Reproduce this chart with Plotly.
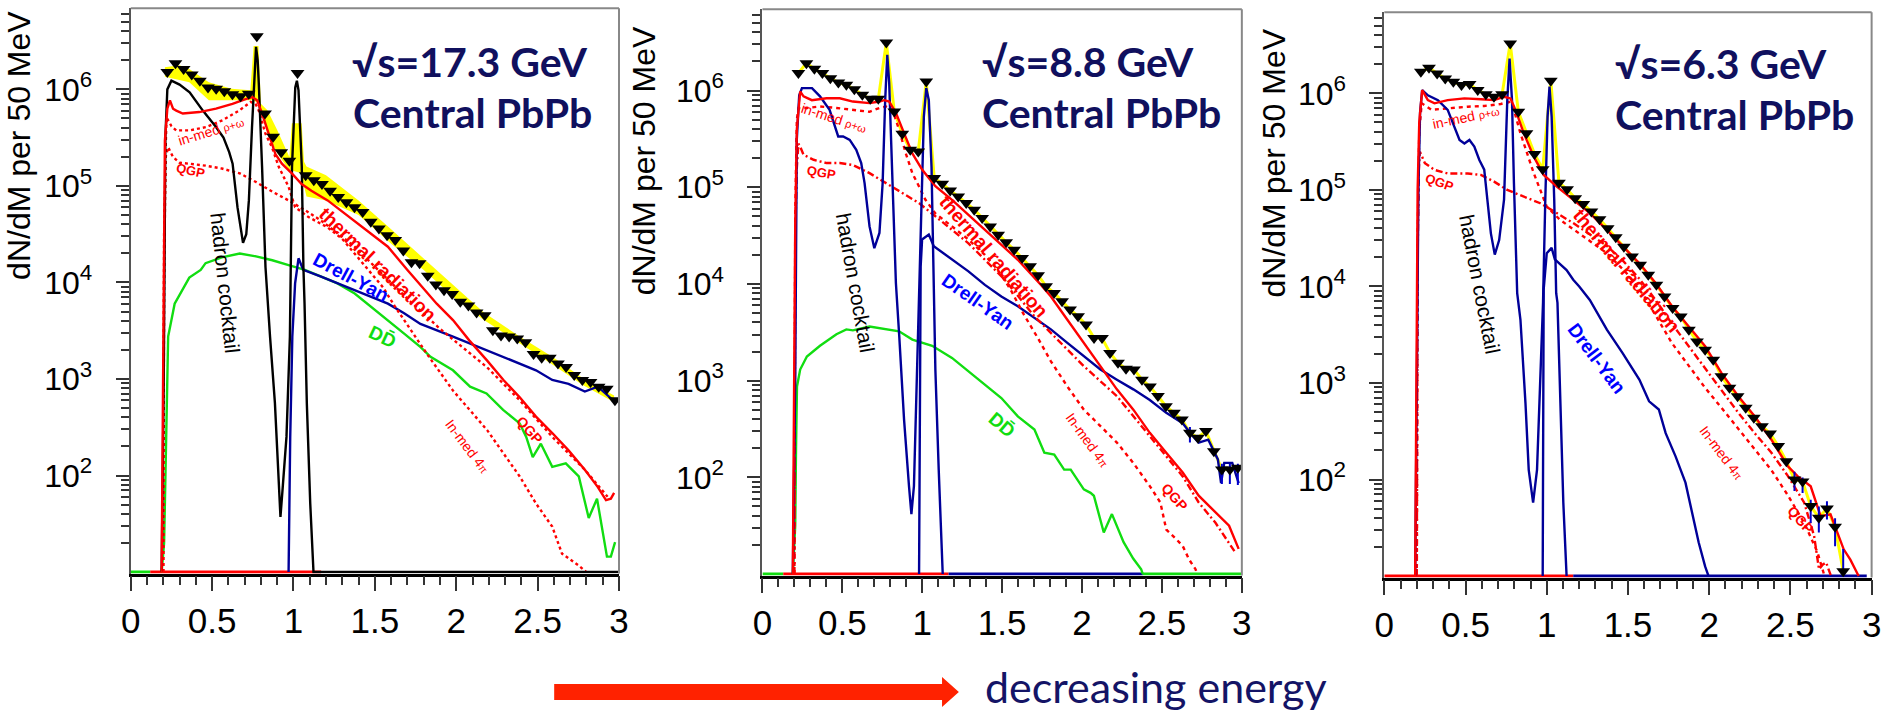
import plotly.graph_objects as go

W, H = 1893, 711

# ---------------- data (x: mass in GeV, *_lg: log10 of dN/dM per 50 MeV) ----------------
mass_bins = [0.225, 0.275, 0.325, 0.375, 0.425, 0.475, 0.525, 0.575, 0.625, 0.675,
             0.725, 0.775, 0.825, 0.875, 0.925, 0.975, 1.025, 1.075, 1.125, 1.175,
             1.225, 1.275, 1.325, 1.375, 1.425, 1.475, 1.525, 1.575, 1.625, 1.675,
             1.725, 1.775, 1.825, 1.875, 1.925, 1.975, 2.025, 2.075, 2.125, 2.175,
             2.225, 2.275, 2.325, 2.375, 2.425, 2.475, 2.525, 2.575, 2.625, 2.675,
             2.725, 2.775, 2.825, 2.875, 2.925, 2.975]

data1_lg = [6.18, 6.27, 6.21, 6.155, 6.09, 6.02, 6.007, 5.98, 5.95, 5.93, 5.955, 6.55,
            5.75, 5.51, 5.35, 5.26, 6.17,
            5.11, 5.06, 5.02, 4.95, 4.885, 4.83, 4.78, 4.73, 4.63, 4.56,
            4.49, 4.44, 4.33, 4.21, 4.20, 4.07, 3.98, 3.92, 3.88, 3.80,
            3.76, 3.69, 3.66, 3.505, 3.45, 3.44, 3.42, 3.38, 3.26, 3.22,
            3.22, 3.16, 3.125, 3.04, 2.99, 2.97, 2.92, 2.90, 2.78]
data2_lg = [6.18, 6.283, 6.224, 6.18, 6.128, 6.083, 6.059, 6.014, 5.956, 5.914, 5.914, 6.496,
            5.783, 5.553, 5.387, 5.37, 6.093,
            5.095, 5.036, 4.967, 4.905, 4.837, 4.768, 4.682, 4.595, 4.509, 4.43,
            4.354, 4.268, 4.182, 4.09, 3.975, 3.907, 3.82, 3.735, 3.665, 3.58,
            3.44, 3.44, 3.287, 3.184, 3.122, 3.115, 3.01, 2.94, 2.84, 2.735,
            2.667, 2.598, 2.46, 2.41, 2.48, 2.27, 2.08, 2.08, 2.10]
data3_lg = [6.223, 6.265, 6.207, 6.155, 6.12, 6.086, 6.096, 6.034, 5.99, 5.965, 5.99, 6.517,
            5.81, 5.586, 5.372, 5.214, 6.13,
            5.075, 5.007, 4.914, 4.855, 4.776, 4.697, 4.604, 4.51, 4.41, 4.31,
            4.224, 4.12, 4.018, 3.897, 3.777, 3.69, 3.552, 3.431, 3.345, 3.242,
            3.07, 2.95, 2.863, 2.743, 2.64, 2.552, 2.477, 2.346, 2.19, 2.0,
            1.98, 1.725, 1.605, 1.70, 1.512, 1.05]

# systematic band (panel 1)
band1_x = [0.21, 0.30, 0.36, 0.48, 0.62, 0.735, 0.755, 0.785, 0.80, 0.84, 0.90, 0.975, 0.99,
           1.05, 1.065, 1.08, 1.2, 1.4, 1.6, 1.8, 2.0, 2.17, 2.38, 2.6, 2.78, 2.97]
band1_hi = [6.23, 6.25, 6.21, 6.075, 6.007, 5.99, 6.45, 6.45, 5.85, 5.784, 5.58, 5.30, 5.65,
            5.65, 5.25, 5.2, 5.11, 4.85, 4.55, 4.25, 3.94, 3.69, 3.45, 3.22, 3.005, 2.83]
band1_lo = [6.13, 6.10, 6.075, 5.887, 5.887, 5.887, 5.887, 5.85, 5.80, 5.54, 5.34, 5.16, 5.16,
            5.13, 5.0, 4.89, 4.85, 4.70, 4.40, 4.13, 3.82, 3.61, 3.38, 3.14, 2.935, 2.76]

# error bars (log10 low / high)
err2_x = [2.675, 2.875, 2.925, 2.975]
err2_val = [2.46, 2.08, 2.08, 2.10]
err2_hi = [2.52, 2.14, 2.14, 2.14]
err2_lo = [2.36, 1.93, 1.93, 1.92]
err3_x = [2.525, 2.575, 2.625, 2.675, 2.725, 2.775, 2.825]
err3_val = [2.0, 1.98, 1.725, 1.605, 1.70, 1.512, 1.05]
err3_hi = [2.08, 2.02, 1.79, 1.72, 1.775, 1.60, 1.28]
err3_lo = [1.88, 1.86, 1.55, 1.45, 1.585, 1.31, 1.02]

# ---- panel 1: sqrt(s)=17.3 GeV ----
p1_cock_x = [0.19, 0.203, 0.213, 0.225, 0.25, 0.30, 0.362, 0.443, 0.524, 0.57, 0.605, 0.626, 0.656,
             0.69, 0.71, 0.726, 0.745, 0.757, 0.77, 0.78, 0.787, 0.807, 0.828, 0.856, 0.886, 0.906,
             0.92, 0.935, 0.957, 0.978, 0.991, 1.011, 1.021, 1.031, 1.051, 1.061, 1.068, 1.082,
             1.103, 1.123, 3.0]
p1_cock_lg = [1.0, 3.0, 5.5, 6.0, 6.09, 6.05, 5.97, 5.78, 5.61, 5.5, 5.35, 5.23, 4.78,
              4.41, 4.5, 4.85, 5.6, 6.06, 6.44, 6.3, 6.06, 5.2, 4.16, 3.44, 2.75, 2.06,
              1.57, 1.9, 2.40, 3.44, 5.2, 6.02, 6.09, 5.99, 5.2, 4.16, 3.78, 2.75,
              1.71, 1.0, 1.0]
p1_therm_x = [0.19, 0.2, 0.205, 0.21, 0.225, 0.241, 0.26, 0.28, 0.32, 0.422, 0.524, 0.625, 0.706,
              0.747, 0.777, 0.807, 0.848, 0.889, 0.929, 0.99, 1.05, 1.11, 1.21, 1.37, 1.58, 1.70,
              1.80, 1.88, 1.98, 2.08, 2.19, 2.29, 2.39, 2.49, 2.59, 2.69, 2.79, 2.87, 2.92, 2.95, 2.97]
p1_therm_lg = [1.0, 3.0, 4.5, 5.47, 5.8, 5.886, 5.8, 5.78, 5.75, 5.765, 5.8, 5.85, 5.90,
               5.92, 5.886, 5.75, 5.54, 5.33, 5.23, 5.13, 5.02, 4.95, 4.85, 4.64, 4.37, 4.13,
               3.93, 3.78, 3.61, 3.40, 3.19, 2.99, 2.81, 2.61, 2.44, 2.26, 2.06, 1.88, 1.745, 1.76, 1.82]
p1_inmed_x = [0.2, 0.205, 0.215, 0.22, 0.25, 0.28, 0.362, 0.463, 0.564, 0.666, 0.737, 0.767, 0.787,
              0.828, 0.868, 0.909, 0.97, 1.01, 1.09, 1.21, 1.30, 1.45, 1.55, 1.62, 1.72, 1.82,
              1.98, 2.19, 2.39, 2.49, 2.59, 2.65, 2.75, 2.8]
p1_inmed_lg = [1.0, 4.0, 5.4, 5.71, 5.62, 5.575, 5.575, 5.61, 5.68, 5.78, 5.87, 5.85, 5.78,
               5.54, 5.40, 5.2, 4.99, 4.78, 4.68, 4.57, 4.45, 4.15, 3.95, 3.76, 3.505, 3.26,
               2.88, 2.47, 1.99, 1.71, 1.47, 1.19, 1.07, 1.0]
p1_qgp_x = [0.2, 0.205, 0.215, 0.23, 0.26, 0.30, 0.36, 0.46, 0.56, 0.67, 0.77, 0.87, 0.97, 1.07,
            1.17, 1.37, 1.55, 1.72, 1.90, 2.19, 2.39, 2.59, 2.79, 2.93]
p1_qgp_lg = [1.0, 4.5, 5.3, 5.40, 5.30, 5.24, 5.23, 5.21, 5.18, 5.13, 5.04, 4.94, 4.85, 4.75,
             4.64, 4.38, 4.08, 3.80, 3.52, 3.12, 2.78, 2.40, 2.06, 1.78]
p1_dd_x = [0.19, 0.205, 0.21, 0.22, 0.23, 0.27, 0.33, 0.36, 0.43, 0.46, 0.56, 0.67, 0.77, 0.87,
           0.97, 1.07, 1.17, 1.27, 1.376, 1.477, 1.578, 1.68, 1.781, 1.842, 1.98, 2.085, 2.186,
           2.288, 2.39, 2.43, 2.47, 2.52, 2.59, 2.673, 2.753, 2.814, 2.865, 2.926, 2.95, 2.976]
p1_dd_lg = [1.0, 1.3, 1.71, 2.75, 3.44, 3.78, 3.95, 4.05, 4.13, 4.20, 4.26, 4.30, 4.27, 4.23,
            4.18, 4.13, 4.06, 3.99, 3.885, 3.75, 3.61, 3.47, 3.33, 3.23, 3.09, 2.92, 2.85,
            2.68, 2.54, 2.40, 2.19, 2.33, 2.09, 2.125, 1.99, 1.56, 1.76, 1.16, 1.16, 1.31]
p1_dy_x = [0.97, 0.98, 0.993, 1.01, 1.031, 1.06, 1.17, 1.27, 1.37, 1.477, 1.58, 1.68, 1.78, 1.98,
           2.08, 2.19, 2.39, 2.49, 2.59, 2.69, 2.79, 2.87, 2.95, 2.976]
p1_dy_lg = [1.0, 2.40, 3.44, 3.99, 4.25, 4.13, 4.06, 3.99, 3.92, 3.85, 3.78, 3.68, 3.57, 3.44,
            3.37, 3.30, 3.16, 3.09, 2.99, 2.95, 2.87, 2.92, 2.80, 2.78]

# ---- panel 2: sqrt(s)=8.8 GeV ----
p2_cock_x = [0.19, 0.205, 0.215, 0.23, 0.247, 0.31, 0.36, 0.42, 0.474, 0.505, 0.546, 0.587, 0.618,
             0.639, 0.67, 0.70, 0.732, 0.752, 0.768, 0.781, 0.793, 0.814, 0.835, 0.856, 0.886,
             0.917, 0.932, 0.948, 0.969, 0.979, 0.99, 1.01, 1.025, 1.041, 1.058, 1.072, 1.082,
             1.103, 1.128]
p2_cock_lg = [1.0, 3.0, 5.5, 5.95, 6.025, 6.025, 5.94, 5.80, 5.525, 5.525, 5.49, 5.387, 5.25,
              5.043, 4.595, 4.37, 4.527, 5.04, 5.90, 6.37, 6.08, 5.04, 4.01, 3.46, 2.60,
              1.91, 1.62, 1.91, 3.115, 3.80, 4.527, 5.73, 6.025, 5.90, 5.21, 4.18, 3.115,
              2.08, 1.0]
p2_therm_x = [0.19, 0.2, 0.205, 0.215, 0.236, 0.257, 0.309, 0.401, 0.484, 0.566, 0.67, 0.732, 0.762,
              0.793, 0.835, 0.886, 0.938, 1.0, 1.082, 1.186, 1.392, 1.598, 1.743, 1.805, 1.908,
              2.011, 2.115, 2.218, 2.321, 2.424, 2.527, 2.63, 2.73, 2.835, 2.92, 2.98]
p2_therm_lg = [1.0, 3.0, 4.6, 5.6, 5.99, 5.94, 5.90, 5.92, 5.92, 5.886, 5.87, 5.886, 5.90,
               5.886, 5.77, 5.56, 5.35, 5.18, 5.01, 4.87, 4.56, 4.25, 3.99, 3.87, 3.63,
               3.39, 3.15, 2.91, 2.70, 2.46, 2.254, 2.05, 1.81, 1.64, 1.50, 1.26]
p2_inmed_x = [0.2, 0.205, 0.215, 0.226, 0.278, 0.36, 0.463, 0.566, 0.67, 0.732, 0.773, 0.814, 0.855,
              0.897, 0.938, 0.979, 1.02, 1.082, 1.186, 1.289, 1.392, 1.47, 1.55, 1.63, 1.72, 1.805,
              1.908, 2.011, 2.115, 2.218, 2.32, 2.424, 2.49, 2.527, 2.59, 2.63, 2.67, 2.71, 2.72]
p2_inmed_lg = [1.0, 4.7, 5.7, 5.82, 5.82, 5.835, 5.82, 5.80, 5.78, 5.82, 5.835, 5.80, 5.594,
               5.35, 5.146, 5.01, 4.87, 4.73, 4.595, 4.46, 4.30, 4.15, 3.95, 3.70, 3.45, 3.20,
               2.94, 2.70, 2.53, 2.36, 2.15, 1.91, 1.74, 1.46, 1.36, 1.29, 1.15, 1.05, 1.0]
p2_qgp_x = [0.2, 0.205, 0.215, 0.225, 0.236, 0.257, 0.32, 0.401, 0.484, 0.566, 0.67, 0.773, 0.876,
            0.979, 1.082, 1.186, 1.289, 1.392, 1.516, 1.702, 1.805, 2.011, 2.218, 2.424, 2.63,
            2.73, 2.835, 2.96]
p2_qgp_lg = [1.0, 4.5, 5.2, 5.45, 5.42, 5.336, 5.284, 5.25, 5.25, 5.23, 5.146, 5.04, 4.94,
             4.837, 4.70, 4.56, 4.42, 4.25, 4.044, 3.665, 3.49, 3.15, 2.84, 2.43, 2.01,
             1.74, 1.53, 1.22]
p2_dd_x = [0.19, 0.205, 0.21, 0.216, 0.236, 0.278, 0.36, 0.463, 0.525, 0.566, 0.67, 0.773, 0.855,
           0.938, 1.062, 1.186, 1.289, 1.392, 1.495, 1.598, 1.702, 1.764, 1.826, 1.888, 1.929,
           2.011, 2.053, 2.074, 2.136, 2.187, 2.26, 2.32, 2.37, 2.38]
p2_dd_lg = [1.0, 1.5, 2.3, 2.94, 3.115, 3.25, 3.36, 3.48, 3.53, 3.52, 3.56, 3.535, 3.51,
            3.425, 3.36, 3.235, 3.097, 2.96, 2.82, 2.63, 2.495, 2.254, 2.236, 2.08, 2.08,
            1.875, 1.84, 1.81, 1.43, 1.62, 1.33, 1.16, 1.05, 1.0]
p2_dy_x = [0.98, 0.985, 0.99, 0.999, 1.041, 1.072, 1.186, 1.289, 1.392, 1.495, 1.598, 1.702, 1.805,
           1.908, 2.011, 2.115, 2.218, 2.321, 2.424, 2.527, 2.63, 2.69, 2.73, 2.79, 2.85, 2.87,
           2.89, 2.94, 2.98]
p2_dy_lg = [1.0, 3.0, 4.18, 4.46, 4.51, 4.39, 4.25, 4.13, 3.99, 3.87, 3.77, 3.65, 3.53,
            3.39, 3.25, 3.115, 3.01, 2.91, 2.80, 2.667, 2.56, 2.43, 2.36, 2.39, 2.185, 1.94,
            2.15, 2.15, 1.94]

# ---- panel 3: sqrt(s)=6.3 GeV ----
p3_cock_x = [0.19, 0.2, 0.21, 0.22, 0.233, 0.268, 0.33, 0.39, 0.432, 0.463, 0.493, 0.524, 0.554,
             0.585, 0.615, 0.636, 0.656, 0.68, 0.707, 0.737, 0.757, 0.771, 0.786, 0.798, 0.818,
             0.838, 0.869, 0.889, 0.916, 0.94, 0.961, 0.977, 0.991, 1.005, 1.017, 1.03, 1.046,
             1.058, 1.066, 1.082, 1.102, 1.122]
p3_cock_lg = [1.0, 3.0, 5.0, 5.8, 6.034, 5.98, 5.93, 5.83, 5.655, 5.517, 5.48, 5.517, 5.45,
              5.31, 5.21, 4.90, 4.55, 4.33, 4.48, 4.90, 5.93, 6.36, 5.93, 5.07, 3.93,
              3.655, 2.79, 2.10, 1.76, 2.10, 3.14, 3.83, 4.90, 5.76, 6.07, 5.76, 4.90,
              3.93, 3.83, 2.79, 1.76, 1.0]
p3_therm_x = [0.19, 0.2, 0.205, 0.215, 0.233, 0.268, 0.309, 0.39, 0.493, 0.595, 0.676, 0.737, 0.777,
              0.808, 0.859, 0.92, 0.981, 1.062, 1.163, 1.265, 1.37, 1.467, 1.57, 1.67, 1.772,
              1.874, 1.975, 2.077, 2.179, 2.28, 2.382, 2.483, 2.544, 2.625, 2.686, 2.747, 2.788,
              2.828, 2.869, 2.91, 2.92]
p3_therm_lg = [1.0, 3.5, 5.0, 5.7, 6.034, 5.93, 5.897, 5.93, 5.948, 5.94, 5.93, 5.965, 5.948,
               5.827, 5.586, 5.345, 5.155, 5.034, 4.897, 4.76, 4.586, 4.414, 4.24, 4.035, 3.793,
               3.586, 3.38, 3.10, 2.863, 2.656, 2.415, 2.14, 2.035, 1.93, 1.62, 1.64, 1.45,
               1.277, 1.17, 1.04, 1.0]
p3_inmed_x = [0.2, 0.205, 0.215, 0.23, 0.29, 0.39, 0.514, 0.615, 0.717, 0.767, 0.798, 0.838, 0.879,
              0.92, 0.96, 1.0, 1.082, 1.2, 1.37, 1.49, 1.6, 1.772, 1.874, 1.975, 2.077, 2.18,
              2.28, 2.382, 2.483, 2.585, 2.666, 2.71]
p3_inmed_lg = [1.0, 4.5, 5.6, 5.897, 5.83, 5.845, 5.862, 5.87, 5.89, 5.913, 5.827, 5.586, 5.38,
               5.173, 5.0, 4.827, 4.69, 4.55, 4.345, 4.14, 3.90, 3.41, 3.18, 2.95, 2.74, 2.52,
               2.31, 2.10, 1.84, 1.55, 1.25, 1.0]
p3_qgp_x = [0.2, 0.205, 0.212, 0.219, 0.25, 0.31, 0.39, 0.514, 0.595, 0.676, 0.757, 0.859, 0.96,
            1.062, 1.163, 1.265, 1.37, 1.467, 1.57, 1.67, 1.772, 1.874, 1.975, 2.077, 2.18,
            2.28, 2.382, 2.483, 2.585, 2.646, 2.676, 2.70, 2.72, 2.75]
p3_qgp_lg = [1.0, 4.3, 5.2, 5.396, 5.276, 5.207, 5.17, 5.17, 5.155, 5.086, 5.0, 4.93, 4.862,
             4.76, 4.656, 4.54, 4.42, 4.27, 4.08, 3.86, 3.61, 3.38, 3.15, 2.92, 2.69,
             2.48, 2.28, 2.04, 1.76, 1.415, 1.07, 1.12, 1.14, 1.0]
p3_dy_x = [0.975, 0.978, 0.981, 1.0, 1.03, 1.05, 1.122, 1.163, 1.2, 1.265, 1.37, 1.467, 1.57, 1.63,
           1.69, 1.732, 1.793, 1.854, 1.895, 1.935, 1.975, 1.996]
p3_dy_lg = [1.0, 3.0, 3.97, 4.345, 4.40, 4.28, 4.17, 4.07, 4.0, 3.86, 3.552, 3.31, 3.035, 2.81,
            2.725, 2.48, 2.24, 1.967, 1.66, 1.35, 1.10, 1.0]

# zero-content bins drawn on the floor of each frame: (x_start, x_end, colour)
floor1 = [(0.0, 0.12, '#11dd11'), (0.12, 1.17, '#ff0000')]
floor2 = [(0.0, 0.13, '#11dd11'), (0.13, 1.165, '#ff0000'), (1.165, 2.38, '#000099'), (2.38, 3.0, '#11dd11')]
floor3 = [(0.0, 1.163, '#ff0000'), (1.163, 2.97, '#000099')]

# ---------------- styling ----------------
RED = '#ff0000'
GREEN = '#11dd11'
NAVY_LINE = '#000099'
BLACK = '#000000'
YELLOW = '#ffff00'
TITLE_C = '#10105e'
YMIN = 10.0
LW = 2.4


def V(lg):
    return [10.0 ** v for v in lg]


def px(x):
    return x / W


def py(y):
    return 1.0 - y / H


fig = go.Figure()


def line(ax, xs, lg, color, dash='solid', width=LW):
    fig.add_trace(go.Scatter(x=xs, y=V(lg), xaxis='x' + ax, yaxis='y' + ax, mode='lines',
                             line=dict(color=color, width=width, dash=dash),
                             hoverinfo='skip', showlegend=False))


def floor(ax, segs):
    for x0, x1, c in segs:
        fig.add_trace(go.Scatter(x=[x0, x1], y=[YMIN, YMIN], xaxis='x' + ax, yaxis='y' + ax,
                                 mode='lines', line=dict(color=c, width=3),
                                 hoverinfo='skip', showlegend=False))


def points(ax, lg, n):
    fig.add_trace(go.Scatter(x=mass_bins[:n], y=V(lg), xaxis='x' + ax, yaxis='y' + ax,
                             mode='markers', marker=dict(symbol='triangle-down', size=12, color=BLACK,
                                                         line=dict(width=0)),
                             hoverinfo='skip', showlegend=False))


def errors(ax, xs, val, lo, hi):
    yv = V(val)
    up = [10 ** h - v for h, v in zip(hi, yv)]
    dn = [v - 10 ** l for l, v in zip(lo, yv)]
    fig.add_trace(go.Scatter(x=xs, y=yv, xaxis='x' + ax, yaxis='y' + ax, mode='markers',
                             marker=dict(size=1, color='rgba(0,0,0,0)'),
                             error_y=dict(type='data', array=up, arrayminus=dn, color='#0000cc',
                                          thickness=2, width=0, symmetric=False),
                             hoverinfo='skip', showlegend=False))


DOT1 = '3px,3px'
QGPD = '7px,3px,2px,3px'
INMD = '4px,4px'

# ---- panel 1 ----
fig.add_trace(go.Scatter(x=band1_x + band1_x[::-1], y=V(band1_hi + band1_lo[::-1]),
                         xaxis='x', yaxis='y', mode='lines', fill='toself', fillcolor=YELLOW,
                         line=dict(width=0, color=YELLOW), hoverinfo='skip', showlegend=False))
floor('', floor1)
line('', p1_dd_x, p1_dd_lg, GREEN)
line('', p1_dy_x, p1_dy_lg, NAVY_LINE)
line('', p1_qgp_x, p1_qgp_lg, RED, DOT1)
line('', p1_inmed_x, p1_inmed_lg, RED, DOT1)
line('', p1_cock_x, p1_cock_lg, BLACK)
line('', p1_therm_x, p1_therm_lg, RED)
points('', data1_lg, 56)

# ---- panel 2 ----
fig.add_trace(go.Scatter(x=mass_bins, y=V(data2_lg), xaxis='x2', yaxis='y2', mode='lines',
                         line=dict(color=YELLOW, width=3), hoverinfo='skip', showlegend=False))
floor('2', floor2)
line('2', p2_dd_x, p2_dd_lg, GREEN)
line('2', p2_dy_x, p2_dy_lg, NAVY_LINE)
line('2', p2_qgp_x, p2_qgp_lg, RED, QGPD)
line('2', p2_inmed_x, p2_inmed_lg, RED, INMD)
line('2', p2_cock_x, p2_cock_lg, NAVY_LINE)
line('2', p2_therm_x, p2_therm_lg, RED)
errors('2', err2_x, err2_val, err2_lo, err2_hi)
points('2', data2_lg, 56)

# ---- panel 3 ----
fig.add_trace(go.Scatter(x=mass_bins[:53], y=V(data3_lg), xaxis='x3', yaxis='y3', mode='lines',
                         line=dict(color=YELLOW, width=3), hoverinfo='skip', showlegend=False))
floor('3', floor3)
line('3', p3_dy_x, p3_dy_lg, NAVY_LINE)
line('3', p3_qgp_x, p3_qgp_lg, RED, QGPD)
line('3', p3_inmed_x, p3_inmed_lg, RED, INMD)
line('3', p3_cock_x, p3_cock_lg, NAVY_LINE)
line('3', p3_therm_x, p3_therm_lg, RED)
errors('3', err3_x, err3_val, err3_lo, err3_hi)
points('3', data3_lg, 53)

# ---------------- axes ----------------
XTICKFONT = dict(family='Liberation Sans, Arial, sans-serif', size=35, color='black')
YTICKFONT = dict(family='Liberation Sans, Arial, sans-serif', size=32, color='black')
y_major = [1e2, 1e3, 1e4, 1e5, 1e6]
y_text = ['10<sup>2</sup>', '10<sup>3</sup>', '10<sup>4</sup>', '10<sup>5</sup>', '10<sup>6</sup>']
y_minor = [k * 10 ** e for e in range(1, 7) for k in range(2, 10) if k * 10 ** e < 6.9e6]

panels = {  # pixel frame: x0, x1, ytop, ybottom
    '': (122, 615.5, 8.3, 573.5),
    '2': (760.5, 1245, 9.3, 575.5),
    '3': (1389, 1881.5, 12.3, 577.5),
}

layout_axes = {}
shapes = []
for key, (x0, x1, yt, yb) in panels.items():
    xname = 'xaxis' + key
    yname = 'yaxis' + key
    layout_axes[xname] = dict(
        domain=[px(x0), px(x1)], anchor='y' + key, range=[0, 3],
        showline=True, linecolor='black', linewidth=2.5,
        ticks='outside', ticklen=15, tickwidth=1.5, tickcolor='#333',
        tickmode='linear', tick0=0, dtick=0.5, tickfont=XTICKFONT, ticklabelstandoff=0,
        minor=dict(ticks='outside', ticklen=9, tickwidth=1.5, tickcolor='#333', dtick=0.1, tick0=0,
                   showgrid=False),
        showgrid=False, zeroline=False, layer='below traces', fixedrange=True)
    layout_axes[yname] = dict(
        domain=[py(yb), py(yt)], anchor='x' + key, type='log', range=[0.985, 6.84],
        showline=True, linecolor='#555', linewidth=2,
        ticks='outside', ticklen=13, tickwidth=1.5, tickcolor='#333',
        tickmode='array', tickvals=y_major, ticktext=y_text, tickfont=YTICKFONT,
        ticklabelstandoff=17,
        minor=dict(ticks='outside', ticklen=8, tickwidth=1.5, tickcolor='#333',
                   tickmode='array', tickvals=y_minor, showgrid=False),
        showgrid=False, zeroline=False, layer='below traces', fixedrange=True)
    xd = 'x' + key + ' domain'
    yd = 'y' + key + ' domain'
    shapes.append(dict(type='line', xref=xd, yref=yd, x0=0, x1=1, y0=1, y1=1,
                       line=dict(color='#888', width=2)))
    shapes.append(dict(type='line', xref=xd, yref=yd, x0=1, x1=1, y0=0, y1=1,
                       line=dict(color='#888', width=2)))

# red arrow
arrow_pts = [(550, 684), (942, 684), (942, 677), (959, 692), (942, 707), (942, 700), (550, 700)]
path = 'M ' + ' L '.join(f'{px(a):.5f},{py(b):.5f}' for a, b in arrow_pts) + ' Z'
shapes.append(dict(type='path', xref='paper', yref='paper', path=path,
                   fillcolor='#ff2200', line=dict(width=0)))

# ---------------- annotations ----------------
ann = []
titles = [  # text, left x, centre y, size
    ('√s=17.3 GeV', 344, 62, 41), ('Central PbPb', 345, 113, 41),
    ('√s=8.8 GeV', 980, 62, 41), ('Central PbPb', 980, 113, 41),
    ('√s=6.3 GeV', 1620, 63, 41), ('Central PbPb', 1620, 114, 41),
]
for t, x, y, s in titles:
    ann.append(dict(text=f'<b>{t}</b>', x=px(x), y=py(y), xref='paper', yref='paper',
                    xanchor='left', yanchor='middle', showarrow=False,
                    font=dict(family='Lato, Open Sans, sans-serif', size=s, color=TITLE_C)))

for x, y in [(9, 145), (641, 161), (1277, 163)]:
    ann.append(dict(text='dN/dM per 50 MeV', x=px(x), y=py(y), xref='paper', yref='paper',
                    xanchor='center', yanchor='middle', textangle=-90, showarrow=False,
                    font=dict(family='Liberation Sans, Arial, sans-serif', size=32, color='black')))

INMED_RO = "in-med <span style='font-size:11px'>ρ+ω</span>"
INMED_4P = "In-med 4<span style='font-size:11px'>π</span>"
labels = [
    # text, cx, cy, angle, color, size, bold
    ('hadron cocktail', 218, 283, 84, BLACK, 21, False),
    ('thermal radiation', 372, 264, 44, RED, 19, True),
    ('Drell-Yan', 345, 277, 28, '#0000ff', 19, True),
    ('DD̄', 376, 336, 25, GREEN, 19, True),
    (INMED_RO, 203, 131, -17, RED, 14, False),
    ('QGP', 182, 171, 12, RED, 13, True),
    (INMED_4P, 462, 446, 53, RED, 14, False),
    ('QGP', 525, 430, 48, RED, 14, True),

    (INMED_RO, 833, 118, 18, RED, 14, False),
    ('QGP', 820, 172, 10, RED, 13, True),
    ('hadron cocktail', 855, 283, 80, BLACK, 21, False),
    ('thermal radiation', 994, 257, 49, RED, 19, True),
    ('Drell-Yan', 978, 301, 35, '#0000ff', 19, True),
    ('DD̄', 1002, 425, 40, GREEN, 19, True),
    (INMED_4P, 1089, 440, 54, RED, 14, False),
    ('QGP', 1177, 497, 48, RED, 14, True),

    (INMED_RO, 1472, 117, -12, RED, 14, False),
    ('QGP', 1445, 182, 20, RED, 13, True),
    ('hadron cocktail', 1485, 284, 79, BLACK, 21, False),
    ('thermal radiation', 1634, 270, 50, RED, 19, True),
    ('Drell-Yan', 1604, 358, 53, '#0000ff', 19, True),
    (INMED_4P, 1730, 453, 53, RED, 14, False),
    ('QGP', 1810, 520, 48, RED, 14, True),
]
for t, x, y, ang, c, s, b in labels:
    ann.append(dict(text=(f'<b>{t}</b>' if b else t), x=px(x), y=py(y), xref='paper', yref='paper',
                    xanchor='center', yanchor='middle', textangle=ang, showarrow=False,
                    font=dict(family='Liberation Sans, Arial, sans-serif', size=s, color=c)))

ann.append(dict(text='decreasing energy', x=px(983), y=py(686), xref='paper', yref='paper',
                xanchor='left', yanchor='middle', showarrow=False,
                font=dict(family='Lato, Open Sans, sans-serif', size=43, color='#141466')))

fig.update_layout(
    width=W, height=H, autosize=False,
    margin=dict(l=0, r=0, t=0, b=0, pad=0),
    paper_bgcolor='white', plot_bgcolor='white',
    showlegend=False, shapes=shapes, annotations=ann,
    **layout_axes,
)

fig.write_html('out.html', config={'displayModeBar': False})
